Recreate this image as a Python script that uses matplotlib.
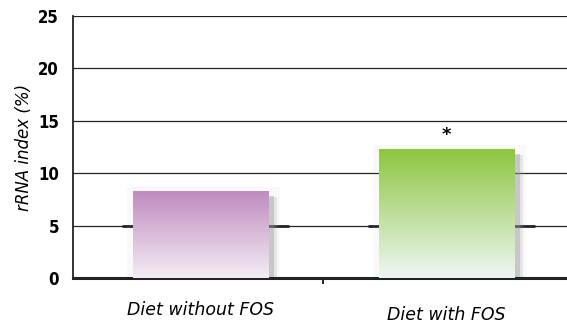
import numpy as np
import matplotlib.pyplot as plt
from matplotlib.colors import LinearSegmentedColormap

groups = ['Diet without FOS', 'Diet with FOS']
values = [8.3, 12.3]
signif = ['', '*']
yticks = [0, 5, 10, 15, 20, 25]

tops = ['#bf8bc0', '#8dc63f']
bottoms = ['#f4edf5', '#eef7f5']

fig = plt.figure(figsize=(5.67, 3.32), dpi=100)
ax = fig.add_axes([73 / 567, 54 / 332, 494 / 567, 262 / 332])

width = 0.55
ax.set_xlim(-0.518, 1.49)
ax.set_ylim(0, 25)

# horizontal rules behind the bars
for t in yticks[1:]:
    ax.axhline(t, color='#222222', lw=0.9, zorder=0)

for i, (v, c0, c1) in enumerate(zip(values, tops, bottoms)):
    x0, x1 = i - width / 2, i + width / 2
    # short heavier stubs on the 5 rule either side of each bar
    ax.hlines(5, x0 - 0.045, x0, color='#222222', lw=2.0, zorder=1)
    ax.hlines(5, x1, x1 + 0.085, color='#222222', lw=2.0, zorder=1)
    # faint halo plus a darker shadow strip on the right
    ax.fill_between([x0 - 0.025, x1 + 0.05], 0, v + 0.4, color='#b0b0b0',
                    alpha=0.07, lw=0, zorder=2)
    ax.fill_between([x0, x1 + 0.035], 0, v - 0.6, color='#a0a0a0',
                    alpha=0.22, lw=0, zorder=2)
    ax.fill_between([x0, x1 + 0.022], 0, v - 0.5, color='#909090',
                    alpha=0.35, lw=0, zorder=2)
    cmap = LinearSegmentedColormap.from_list('g%d' % i, [c1, c0])
    grad = np.linspace(0, 1, 256).reshape(-1, 1)
    ax.imshow(grad, cmap=cmap, aspect='auto', origin='lower',
              extent=(x0, x1, 0, v), zorder=3)
    if signif[i]:
        ax.text(i, v + 0.5, signif[i], ha='center', va='bottom',
                fontsize=13, fontweight='bold', zorder=4)

ax.set_xlim(-0.518, 1.49)
ax.set_ylim(0, 25)

for s in ['top', 'right']:
    ax.spines[s].set_visible(False)
ax.spines['left'].set_linewidth(1.3)
ax.spines['bottom'].set_linewidth(2.2)
ax.spines['left'].set_color('#222222')
ax.spines['bottom'].set_color('#222222')

ax.set_yticks(yticks)
ax.set_yticklabels([str(t) for t in yticks], family='DejaVu Sans',
                   stretch='condensed', fontweight='bold', fontsize=12)
ax.tick_params(axis='y', length=0, pad=10)
ax.set_xticks([0.5])
ax.set_xticklabels([''])
ax.tick_params(axis='x', length=4, width=1.2, direction='out')

ax.set_ylabel('rRNA index (%)', fontsize=12, style='italic', labelpad=4)

ax.text(0, -3.1, groups[0], ha='center', va='center', fontsize=12.5,
        style='italic')
ax.text(1, -3.5, groups[1], ha='center', va='center', fontsize=12.5,
        style='italic')

fig.savefig('out.png', dpi=100)
